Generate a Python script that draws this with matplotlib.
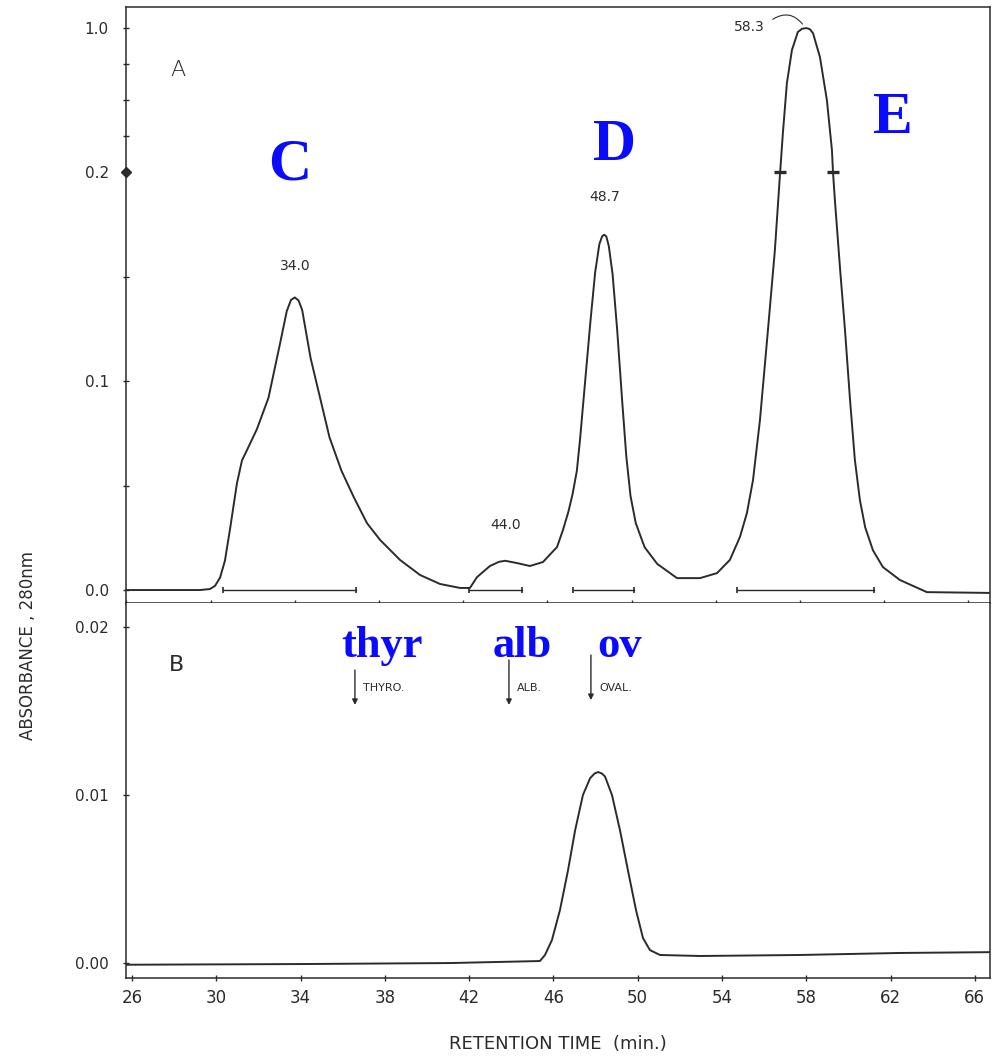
import numpy as np
import matplotlib
matplotlib.use("Agg")
import matplotlib.pyplot as plt

# panel A: absorbance trace of the sample (min, AU)
a_time = [25.7, 29.5, 29.97, 30.21, 30.45, 30.68, 30.92, 31.25, 31.49, 31.73,
          32.2, 32.75, 33.3, 33.62, 33.82, 34.0, 34.18, 34.35, 34.75, 35.2,
          35.65, 36.22, 36.8, 37.43, 38.05, 39.0, 39.95, 40.9, 41.85, 42.32,
          42.66, 43.27, 43.7, 44.0, 44.56, 45.17, 45.79, 46.46, 46.74, 47.0,
          47.2, 47.4, 47.55, 47.8, 48.05, 48.27, 48.47, 48.6, 48.7, 48.8,
          48.92, 49.1, 49.32, 49.55, 49.75, 49.95, 50.2, 50.62, 51.22, 52.16,
          53.25, 54.06, 54.67, 55.15, 55.48, 55.77, 56.1, 56.48, 56.81, 57.05,
          57.19, 57.38, 57.62, 57.9, 58.1, 58.3, 58.47, 58.62, 58.95, 59.28,
          59.52, 59.57, 59.66, 59.9, 60.14, 60.38, 60.61, 60.85, 61.1, 61.47,
          61.94, 62.75, 64.03, 67.2]
a_abs = [0.0, 0.0, 0.0005, 0.002, 0.006, 0.014, 0.029, 0.051, 0.062, 0.067,
         0.077, 0.092, 0.118, 0.1335, 0.1388, 0.140, 0.1385, 0.134, 0.111, 0.092,
         0.073, 0.057, 0.0445, 0.032, 0.024, 0.0144, 0.0072, 0.0029, 0.001, 0.001,
         0.0062, 0.0115, 0.0135, 0.014, 0.0129, 0.0115, 0.0134, 0.0206, 0.0287, 0.0375,
         0.046, 0.057, 0.0718, 0.1005, 0.129, 0.152, 0.1655, 0.1692, 0.170, 0.1692,
         0.1645, 0.151, 0.124, 0.091, 0.064, 0.045, 0.032, 0.0205, 0.0125, 0.0057,
         0.0057, 0.0081, 0.0144, 0.0254, 0.0368, 0.0526, 0.0813, 0.1244, 0.1627, 0.1986,
         0.417, 0.694, 0.878, 0.978, 0.996, 1.0, 0.994, 0.972, 0.839, 0.600,
         0.322, 0.2, 0.1866, 0.1545, 0.1244, 0.0909, 0.0622, 0.043, 0.030, 0.019,
         0.011, 0.0048, -0.001, -0.0014]

# panel B: blank run
b_time = [25.7, 33.97, 41.09, 45.36, 45.6, 45.93, 46.31, 46.69, 47.03, 47.4,
          47.74, 47.95, 48.12, 48.3, 48.45, 48.78, 49.16, 49.54, 49.92, 50.25,
          50.58, 51.06, 52.96, 57.7, 62.45, 66.86]
b_abs = [-0.0001, -0.00006, 0.0, 0.00012, 0.00048, 0.00137, 0.00315, 0.0055, 0.0079, 0.0100,
         0.0110, 0.01128, 0.01137, 0.01128, 0.0111, 0.0100, 0.0079, 0.0055, 0.00315, 0.00149,
         0.00077, 0.00048, 0.00042, 0.00048, 0.0006, 0.00065]

peak_times = [34.0, 44.0, 48.7, 58.3]
peak_labels = ["34.0", "44.0", "48.7", "58.3"]

# pooled fractions (start, end)
frac_start = [30.6, 42.3, 47.2, 55.0]
frac_end = [36.9, 44.8, 50.1, 61.5]

# calibration standards
std_names = ["THYRO.", "ALB.", "OVAL."]
std_times = [36.58, 43.89, 47.78]
std_tags = ["thyr", "alb", "ov"]

x_ticks = list(range(26, 67, 4))

ink = "#2b2b2b"
blue = "#0a0aff"

# recorder range switch at 0.2 AU: upper part is squeezed
BREAK = 0.2
SQUEEZE = 0.0861


def fwd(y):
    y = np.asarray(y, dtype=float)
    return np.where(y <= BREAK, y, BREAK + (y - BREAK) * SQUEEZE)


def inv(y):
    y = np.asarray(y, dtype=float)
    return np.where(y <= BREAK, y, BREAK + (y - BREAK) / SQUEEZE)


W, H = 993, 1059
fig = plt.figure(figsize=(W / 100, H / 100), dpi=100)
fig.patch.set_facecolor("white")

left, right = 126 / W, 990 / W
sep = 1 - 603 / H
ax_a = fig.add_axes([left, sep, right - left, (1 - 7 / H) - sep])
ax_b = fig.add_axes([left, 1 - 978 / H, right - left, sep - (1 - 978 / H)])

for ax in (ax_a, ax_b):
    for s in ax.spines.values():
        s.set_color(ink)
        s.set_linewidth(1.1)
    ax.tick_params(which="both", direction="inout", color=ink, labelcolor=ink,
                   width=1.0, length=5, labelsize=11, pad=10)
    ax.tick_params(which="minor", length=4)

# ---- panel A ----
ax_a.set_yscale("function", functions=(fwd, inv))
ax_a.plot(a_time, a_abs, color=ink, lw=1.4, solid_joinstyle="round")
ax_a.set_xlim(25.98, 67.03)
ax_a.set_ylim(-0.0062, 1.117)
ax_a.set_xticks(x_ticks)
ax_a.tick_params(axis="x", labelbottom=False, length=4)
ax_a.set_yticks([0.0, 0.1, 0.2, 1.0])
ax_a.set_yticklabels(["0.0", "0.1", "0.2", "1.0"])
ax_a.set_yticks([0.05, 0.15, 0.4, 0.6, 0.8], minor=True)
ax_a.plot([25.98], [0.2], marker="D", ms=5, color=ink, clip_on=False)

for t0, t1 in zip(frac_start, frac_end):
    ax_a.plot([t0, t1], [0.0, 0.0], color=ink, lw=1.0, marker="|", ms=5, mew=1.2)

# range-switch marks on the big peak
ax_a.plot([57.05, 59.57], [0.2, 0.2], ls="none", marker="_", ms=9, mew=2.4, color=ink)

label_y = [0.155, 0.031, 0.188]
for t, lab, yl in zip(peak_times[:3], peak_labels[:3], label_y):
    ax_a.text(t, yl, lab, ha="center", va="center", fontsize=10, color=ink)
ax_a.text(55.6, 1.006, peak_labels[3], ha="center", va="center", fontsize=10, color=ink)
ax_a.annotate("", xy=(58.2, 1.01), xytext=(56.6, 1.04),
              arrowprops=dict(arrowstyle="-", color=ink, lw=0.8,
                              connectionstyle="arc3,rad=-0.5"))
ax_a.text(0.060, 0.894, "A", transform=ax_a.transAxes, fontsize=16,
          ha="center", va="center", color=ink, fontweight="light")

# ---- panel B ----
ax_b.plot(b_time, b_abs, color=ink, lw=1.4, solid_joinstyle="round")
ax_b.set_xlim(25.715, 66.72)
ax_b.set_ylim(-0.00089, 0.02143)
ax_b.spines["top"].set_visible(False)
ax_b.set_xticks(x_ticks)
ax_b.tick_params(axis="x", labelsize=12, pad=6, length=4)
ax_b.set_yticks([0.0, 0.01, 0.02])
ax_b.set_yticklabels(["0.00", "0.01", "0.02"])
ax_b.text(0.059, 0.835, "B", transform=ax_b.transAxes, fontsize=16,
          ha="center", va="center", color=ink)

arrow_top = [0.01744, 0.01804, 0.01833]
arrow_bot = [0.01536, 0.01536, 0.01565]
for name, t, y0, y1 in zip(std_names, std_times, arrow_top, arrow_bot):
    ax_b.annotate("", xy=(t, y1), xytext=(t, y0),
                  arrowprops=dict(arrowstyle="-|>", color=ink, lw=1.0,
                                  mutation_scale=8, shrinkA=0, shrinkB=0))
    ax_b.text(t + 0.4, 0.01637, name, fontsize=8, color=ink,
              ha="left", va="center")

ax_b.set_xlabel("RETENTION TIME  (min.)", fontsize=13, color=ink, labelpad=20)
fig.text(28 / W, 1 - 645 / H, "ABSORBANCE , 280nm", rotation=90,
         ha="center", va="center", fontsize=12, color=ink)

# peak letters and standards in blue
serif = ["Liberation Serif", "DejaVu Serif"]
for s, x, y in zip(["C", "D", "E"], [290, 615, 893], [180, 160, 133]):
    fig.text(x / W, 1 - y / H, s, fontsize=43, fontweight="bold", color=blue,
             family=serif, ha="center", va="baseline")
for s, x in zip(std_tags, [382, 522, 620]):
    fig.text(x / W, 1 - 657 / H, s, fontsize=32, fontweight="bold", color=blue,
             family=serif, ha="center", va="baseline")

fig.savefig("out.png", dpi=100)
